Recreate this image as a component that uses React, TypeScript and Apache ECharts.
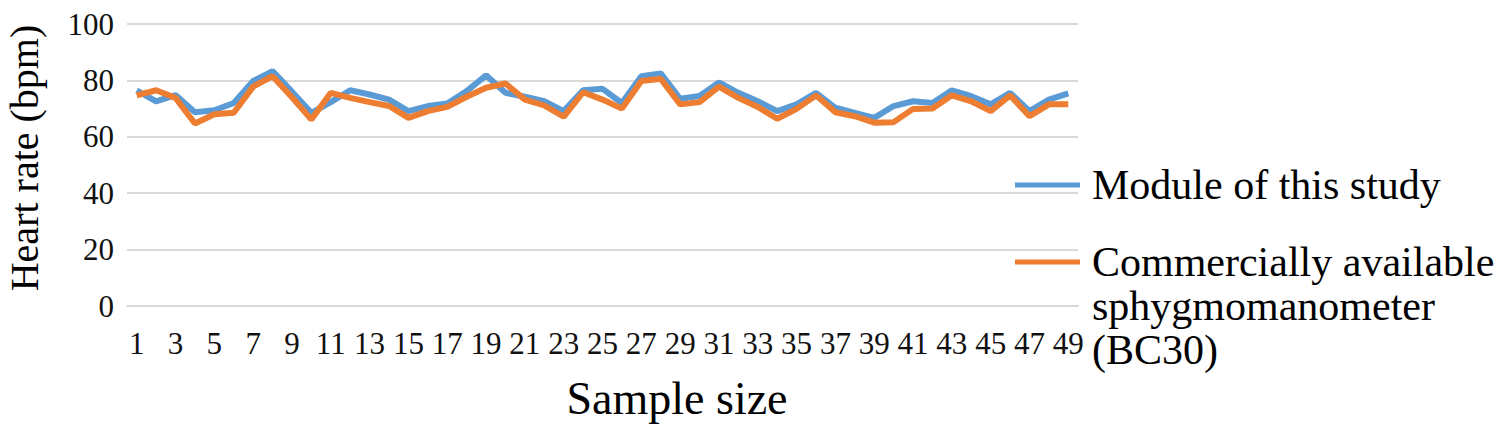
import React, { useEffect, useRef } from "react";
import * as echarts from "echarts";

const SERIES_A = "Module of this study";
const SERIES_B = "Commercially available\nsphygmomanometer\n(BC30)";

const categories: string[] = Array.from({ length: 49 }, (_, i) => String(i + 1));

const moduleValues: number[] = [
  76.5, 72.6, 74.8, 68.7, 69.4, 72.0, 79.8, 83.3, 76.0, 68.5,
  72.3, 76.5, 75.0, 73.2, 69.1, 70.9, 71.8, 76.2, 81.8, 75.6,
  74.2, 72.6, 69.1, 76.5, 77.0, 72.0, 81.5, 82.5, 73.5, 74.5,
  79.3, 75.6, 72.6, 69.1, 71.5, 75.6, 70.3, 68.5, 66.7, 70.9,
  72.6, 72.0, 76.5, 74.4, 71.5, 75.6, 69.1, 73.2, 75.4,
];

const commercialValues: number[] = [
  74.7, 76.5, 73.8, 64.7, 68.0, 68.5, 77.8, 81.5, 74.0, 66.1,
  75.6, 73.8, 72.3, 70.9, 66.7, 69.1, 70.6, 74.2, 77.4, 78.9,
  73.2, 71.1, 67.1, 75.8, 73.2, 70.0, 79.8, 80.6, 71.5, 72.3,
  77.8, 73.8, 70.6, 66.4, 69.9, 74.7, 68.7, 67.3, 65.0, 65.2,
  69.9, 70.0, 74.7, 72.6, 69.1, 74.7, 67.3, 71.5, 71.5,
];

const yTicks = { min: 0, max: 100, interval: 20 };

const FONT = "Liberation Serif";
const BLUE = "#5B9BD5";
const ORANGE = "#ED7D31";
const GRID = "#D9D9D9";

export default function App() {
  const ref = useRef<HTMLDivElement>(null);

  useEffect(() => {
    if (!ref.current) return;
    const chart = echarts.init(ref.current, undefined, { renderer: "svg" });
    const legendText = {
      fontSize: 42,
      fontFamily: FONT,
      color: "#000",
      lineHeight: 44,
      padding: [0, 0, 0, 7],
    };
    chart.setOption({
      animation: false,
      textStyle: { fontFamily: FONT },
      grid: { left: 127, right: 432, top: 24, bottom: 132, containLabel: false },
      xAxis: {
        type: "category",
        data: categories,
        boundaryGap: true,
        axisLine: { show: true, lineStyle: { color: GRID, width: 2 } },
        axisTick: { show: false },
        axisLabel: { interval: 1, margin: 22, fontSize: 31, fontFamily: FONT, color: "#111" },
      },
      yAxis: {
        type: "value",
        min: yTicks.min,
        max: yTicks.max,
        interval: yTicks.interval,
        axisLine: { show: false },
        axisTick: { show: false },
        axisLabel: { margin: 13, fontSize: 31, fontFamily: FONT, color: "#111" },
        splitLine: { show: true, lineStyle: { color: GRID, width: 2 } },
      },
      legend: [
        {
          data: [{ name: SERIES_A }],
          orient: "vertical",
          left: 1010,
          top: 158,
          icon: "rect",
          itemWidth: 65,
          itemHeight: 5,
          textStyle: legendText,
        },
        {
          data: [{ name: SERIES_B }],
          orient: "vertical",
          left: 1010,
          top: 147,
          icon: "rect",
          itemWidth: 65,
          itemHeight: 5,
          formatter: (name: string) => "\n\n" + name,
          textStyle: legendText,
        },
      ],
      graphic: [
        {
          type: "text",
          x: 24,
          y: 158,
          rotation: Math.PI / 2,
          style: {
            text: "Heart rate (bpm)",
            fontSize: 40,
            fontFamily: FONT,
            fill: "#000",
            align: "center",
            verticalAlign: "middle",
          },
        },
        {
          type: "text",
          x: 677,
          y: 398,
          style: {
            text: "Sample size",
            fontSize: 46,
            fontFamily: FONT,
            fill: "#000",
            align: "center",
            verticalAlign: "middle",
          },
        },
      ],
      series: [
        {
          name: SERIES_A,
          type: "line",
          data: moduleValues,
          showSymbol: false,
          symbol: "none",
          lineStyle: { color: BLUE, width: 6 },
          itemStyle: { color: BLUE },
        },
        {
          name: SERIES_B,
          type: "line",
          data: commercialValues,
          showSymbol: false,
          symbol: "none",
          lineStyle: { color: ORANGE, width: 6 },
          itemStyle: { color: ORANGE },
        },
      ],
    });
    return () => chart.dispose();
  }, []);

  return (
    <div
      ref={ref}
      style={{ position: "fixed", left: 0, top: 0, width: 1510, height: 438, background: "#fff" }}
    />
  );
}
